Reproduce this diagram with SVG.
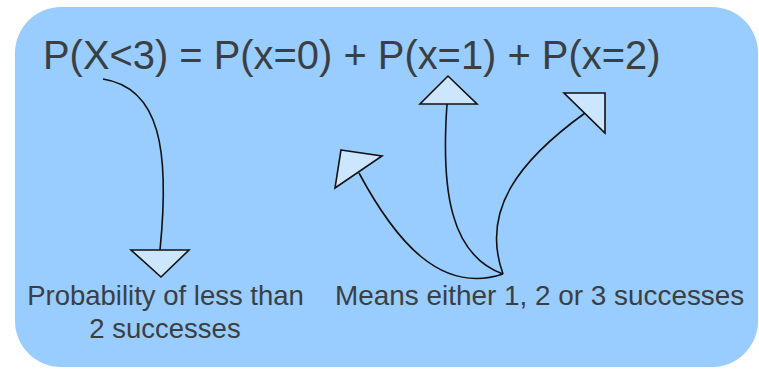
<svg xmlns="http://www.w3.org/2000/svg" width="759" height="370" viewBox="0 0 759 370">
<style>
.bg{fill:#99ccff;stroke:none}
.t{font-family:"Liberation Sans",Arial,sans-serif;fill:#3a3f44}
.c{fill:none;stroke:#111;stroke-width:1.6}
.h{fill:#cce6ff;stroke:#111;stroke-width:1.6;stroke-linejoin:miter}
</style>
<rect width="759" height="370" fill="#ffffff"/>
<rect class="bg" x="15" y="7" width="743" height="360" rx="46" ry="46"/>
<g id="formula"><text class="t" x="43" y="69" font-size="39.9">P(X&lt;3) = P(x=0) + P(x=1) + P(x=2)</text></g>
<g id="label-less"><text class="t" x="165.5" y="305" font-size="27.5" text-anchor="middle">Probability of less than</text><text class="t" x="165" y="338" font-size="27.5" text-anchor="middle">2 successes</text></g>
<g id="label-means"><text class="t" x="335" y="305" font-size="27.9">Means either 1, 2 or 3 successes</text></g>
<g id="connectors">
<path class="c" d="M103,79 C160,88 170,150 160,250"/>
<polygon class="h" points="131,250 189,250 161,277"/>
<path class="c" d="M447,104 C441,190 450,255 503,274"/>
<polygon class="h" points="420,104 477,104 448,76"/>
<path class="c" d="M359,173 C395,240 440,295 503,274"/>
<polygon class="h" points="341,150 382,156 335,188"/>
<path class="c" d="M585,113 C520,160 480,210 503,274"/>
<polygon class="h" points="564,93 605,93 605,133"/>
</g>
</svg>
